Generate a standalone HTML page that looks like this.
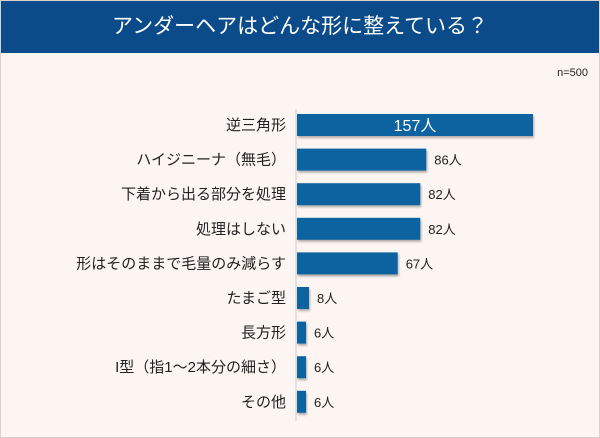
<!DOCTYPE html>
<html><head><meta charset="utf-8">
<style>
body{margin:0;width:600px;height:438px;overflow:hidden;background:#fdf5f2;font-family:"Liberation Sans","Noto Sans CJK JP",sans-serif;}
#wrap{position:relative;width:598px;height:436px;border:1px solid #d8d0cc;background:#fdf5f2;}
#hdr{position:absolute;left:0;top:0;width:598px;height:52px;background:#0b4b8a;color:#fff;font-size:21px;text-align:center;line-height:52px;}
#n{position:absolute;right:11px;top:66px;font-size:11px;color:#222;}
</style></head><body>
<div id="wrap">
<div id="hdr">アンダーヘアはどんな形に整えている？</div>
<div id="n">n=500</div>
<svg id="c" width="598" height="436" style="position:absolute;left:0;top:0">
<defs><filter id="sh" x="-10%" y="-20%" width="130%" height="160%"><feDropShadow dx="1" dy="2" stdDeviation="1" flood-color="#000" flood-opacity="0.3"/></filter></defs>
</svg>
</div>
<script>
const categories=["逆三角形","ハイジニーナ（無毛）","下着から出る部分を処理","処理はしない","形はそのままで毛量のみ減らす","たまご型","長方形","I型（指1〜2本分の細さ）","その他"];
const values=[157,86,82,82,67,8,6,6,6];
const valueLabels=["157人","86人","82人","82人","67人","8人","6人","6人","6人"];
const svg=document.getElementById('c');
const NS='http://www.w3.org/2000/svg';
const x0=296, scale=236/157;
const xScale=v=>x0+v*scale;
const y0=124, step=34.6;
const yScale=i=>y0+i*step;
const axis=document.createElementNS(NS,'line');


axis.setAttribute('x1',x0-1);axis.setAttribute('x2',x0-1);axis.setAttribute('y1',108);axis.setAttribute('y2',420);
axis.setAttribute('stroke','#ccc');axis.setAttribute('stroke-width','1');
svg.appendChild(axis);
categories.forEach((c,i)=>{
  const cy=yScale(i);
  const t=document.createElementNS(NS,'text');
  
  
  t.setAttribute('x',285);t.setAttribute('y',cy+5);t.setAttribute('text-anchor','end');
  t.setAttribute('font-size','15');t.setAttribute('fill','#222');
  t.textContent=c;svg.appendChild(t);
  const r=document.createElementNS(NS,'rect');
  
  
  const w=xScale(values[i])-x0;
  r.setAttribute('x',x0);r.setAttribute('y',cy-11);r.setAttribute('width',Math.max(w,8));r.setAttribute('height',22);
  r.setAttribute('fill','#0e62a0');r.setAttribute('filter','url(#sh)');
  svg.appendChild(r);
  const v=document.createElementNS(NS,'text');
  
  
  if(i===0){
    v.setAttribute('x',x0+w/2);v.setAttribute('y',cy+6);v.setAttribute('text-anchor','middle');
    v.setAttribute('font-size','16');v.setAttribute('fill','#fff');
  }else{
    v.setAttribute('x',x0+Math.max(w,8)+8);v.setAttribute('y',cy+5);
    v.setAttribute('font-size','13');v.setAttribute('fill','#222');
  }
  v.textContent=valueLabels[i];svg.appendChild(v);
});
</script>
</body></html>
